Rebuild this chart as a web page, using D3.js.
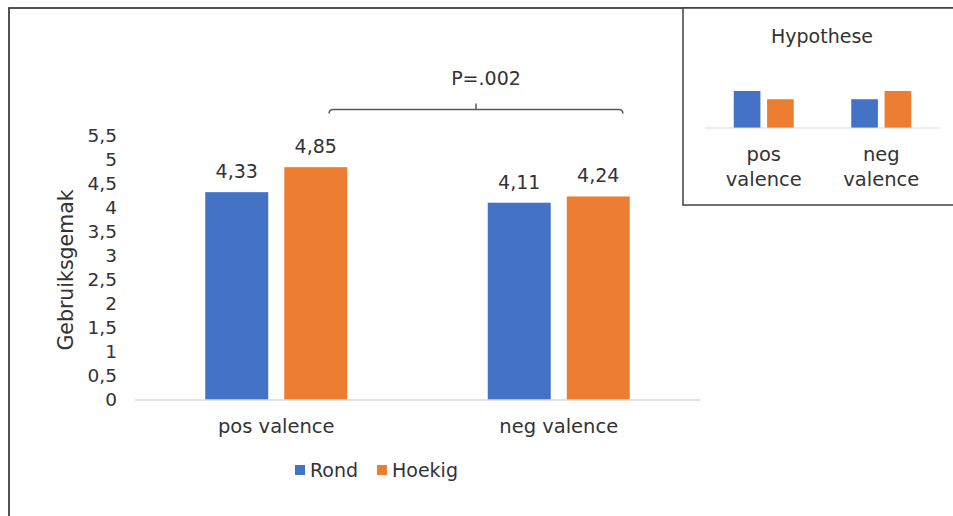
<!DOCTYPE html>
<html>
<head>
<meta charset="utf-8">
<script src="https://cdn.jsdelivr.net/npm/d3@7/dist/d3.min.js"></script>
<style>
  html, body { margin: 0; padding: 0; background: #fff; }
  svg { display: block; }
  text { font-family: "DejaVu Sans", Verdana, sans-serif; fill: #333; }
</style>
</head>
<body>
<svg id="chart" width="953" height="516"></svg>
<script>
// Main chart data
const categories = ["pos valence", "neg valence"];
const series = ["Rond", "Hoekig"];
const rondValues = [4.33, 4.11];
const hoekigValues = [4.85, 4.24];
const yTicks = [0, 0.5, 1, 1.5, 2, 2.5, 3, 3.5, 4, 4.5, 5, 5.5];
const yLabel = "Gebruiksgemak";
const pLabel = "P=.002";

// Inset (hypothesis) data: relative heights only
const hypTitle = "Hypothese";
const hypRond = [4.5, 3.5];
const hypHoekig = [3.5, 4.5];

const colors = { Rond: "#4472C4", Hoekig: "#ED7D31" };
const fmt = v => String(v).replace(".", ",");

const svg = d3.select("#chart");

// Outer frame
svg.append("rect")
  .attr("x", 9).attr("y", 8).attr("width", 960).attr("height", 520)
  .attr("fill", "none").attr("stroke", "#404040").attr("stroke-width", 1.8);

// Scales
const x0 = d3.scaleBand().domain(categories).range([135, 700]);
const x1 = d3.scaleBand().domain(series).range([-71, 71]).paddingInner(0.203);
const y = d3.scaleLinear().domain([0, 5.5]).range([400, 136]);

const rows = categories.map((c, i) => ({ cat: c, Rond: rondValues[i], Hoekig: hoekigValues[i] }));

// Y axis (labels only, no line)
const yAxis = svg.append("g")
  .attr("transform", "translate(117,0)")
  .call(d3.axisLeft(y).tickValues(yTicks).tickFormat(fmt).tickSize(0).tickPadding(0));
yAxis.select(".domain").remove();
yAxis.selectAll("text").style("font-size", "18.5px").attr("fill", "#333");

// Y axis title
svg.append("text")
  .attr("transform", `translate(73,${(y(0) + y(5.5)) / 2 + 2}) rotate(-90)`)
  .attr("text-anchor", "middle")
  .style("font-size", "20.5px")
  .text(yLabel);

// Bars
const groups = svg.append("g").selectAll("g")
  .data(rows).join("g")
  .attr("transform", d => `translate(${x0(d.cat) + x0.bandwidth() / 2},0)`);

groups.selectAll("rect")
  .data(d => series.map(s => ({ s, v: d[s] })))
  .join("rect")
  .attr("x", d => x1(d.s))
  .attr("y", d => y(d.v))
  .attr("width", x1.bandwidth())
  .attr("height", d => y(0) - y(d.v))
  .attr("fill", d => colors[d.s]);

groups.selectAll("text.val")
  .data(d => series.map(s => ({ s, v: d[s] })))
  .join("text")
  .attr("class", "val")
  .attr("x", d => x1(d.s) + x1.bandwidth() / 2)
  .attr("y", d => y(d.v) - 14)
  .attr("text-anchor", "middle")
  .style("font-size", "19px")
  .text(d => fmt(d.v));

// Baseline
svg.append("line")
  .attr("x1", 135).attr("x2", 700)
  .attr("y1", y(0)).attr("y2", y(0))
  .attr("stroke", "#d9d9d9").attr("stroke-width", 1.5);

// Category labels
svg.append("g").selectAll("text")
  .data(categories).join("text")
  .attr("x", d => x0(d) + x0.bandwidth() / 2)
  .attr("y", 433)
  .attr("text-anchor", "middle")
  .style("font-size", "19.5px")
  .text(d => d);

// Significance bracket
const bw = x0.bandwidth();
const bL = x0(categories[0]) + bw * 0.687;
const bR = x0(categories[1]) + bw * 0.727;
const bM = (bL + bR) / 2;
const bY = y(6.05);
svg.append("path")
  .attr("d", `M${bL},${bY + 4} Q${bL},${bY} ${bL + 4},${bY} L${bR - 4},${bY} Q${bR},${bY} ${bR},${bY + 4} M${bM},${bY} L${bM},${bY - 6}`)
  .attr("fill", "none").attr("stroke", "#595959").attr("stroke-width", 1.5);
svg.append("text")
  .attr("x", bM + 10).attr("y", y(6.57))
  .attr("text-anchor", "middle")
  .style("font-size", "19px")
  .text(pLabel);

// Legend
const legend = svg.append("g").attr("transform", "translate(295,470)");
const legX = [0, 82];
series.forEach((s, i) => {
  const g = legend.append("g").attr("transform", `translate(${legX[i]},0)`);
  g.append("rect").attr("x", 0).attr("y", -5).attr("width", 10).attr("height", 10).attr("fill", colors[s]);
  g.append("text").attr("x", 15).attr("y", 7).style("font-size", "19px").text(s);
});

// Inset box
svg.append("rect")
  .attr("x", 683).attr("y", 8).attr("width", 300).attr("height", 197)
  .attr("fill", "#fff").attr("stroke", "#404040").attr("stroke-width", 1.5);

svg.append("text")
  .attr("x", 822).attr("y", 43)
  .attr("text-anchor", "middle")
  .style("font-size", "19px")
  .text(hypTitle);

const hx0 = d3.scaleBand().domain(categories).range([705, 940]);
const hx1 = d3.scaleBand().domain(series).range([-30, 30]).paddingInner(0.2);
const hy = d3.scaleLinear().domain([0, 4.5]).range([128, 91]);
const hRows = categories.map((c, i) => ({ cat: c, Rond: hypRond[i], Hoekig: hypHoekig[i] }));

svg.append("g").selectAll("g")
  .data(hRows).join("g")
  .attr("transform", d => `translate(${hx0(d.cat) + hx0.bandwidth() / 2},0)`)
  .selectAll("rect")
  .data(d => series.map(s => ({ s, v: d[s] })))
  .join("rect")
  .attr("x", d => hx1(d.s))
  .attr("y", d => hy(d.v))
  .attr("width", hx1.bandwidth())
  .attr("height", d => hy(0) - hy(d.v))
  .attr("fill", d => colors[d.s]);

svg.append("line")
  .attr("x1", 705).attr("x2", 940).attr("y1", hy(0)).attr("y2", hy(0))
  .attr("stroke", "#d9d9d9").attr("stroke-width", 1.2);

const hLab = svg.append("g").selectAll("text")
  .data(categories).join("text")
  .attr("x", d => hx0(d) + hx0.bandwidth() / 2)
  .attr("text-anchor", "middle")
  .style("font-size", "19.5px");
hLab.each(function (d) {
  const parts = d.split(" ");
  d3.select(this).selectAll("tspan")
    .data(parts).join("tspan")
    .attr("x", hx0(d) + hx0.bandwidth() / 2)
    .attr("y", (p, i) => 161 + i * 25)
    .text(p => p);
});
</script>
</body>
</html>
